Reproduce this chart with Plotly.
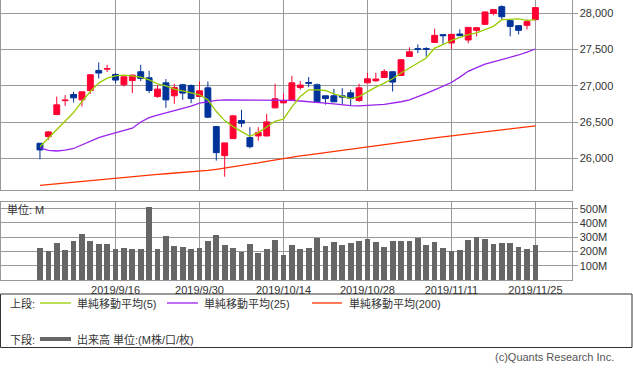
import plotly.graph_objects as go

W, H = 633, 371

dates = (["2019/9/%d" % d for d in [3, 4, 5, 6, 9, 10, 11, 12, 13, 16, 17, 18, 19, 20, 23, 24, 25, 26, 27, 30]]
         + ["2019/10/%d" % d for d in [1, 2, 3, 4, 7, 8, 9, 10, 11, 14, 15, 16, 17, 18, 21, 22, 23, 24, 25, 28, 29, 30, 31]]
         + ["2019/11/%d" % d for d in [1, 4, 5, 6, 7, 8, 11, 12, 13, 14, 15, 18, 19, 20, 21, 22, 25]])

opens = [26207, 26299, 26603, 26795, 26880, 26806, 26935, 27212, 27230, 27156,
         27014, 27073, 27194, 27111, 26852, 27041, 26862, 27014, 27004, 26852,
         26972, 26437, 26036, 26271, 26520, 26285, 26308, 26308, 26696, 26765,
         26802, 26976, 27045, 27014, 26862, 26862, 26862, 26903, 26797, 27041,
         27069, 27115, 27194, 27142, 27405, 27512, 27515, 27599, 27706, 27591,
         27715, 27632, 27765, 27848, 27999, 28092, 27899, 27830, 27834, 27913]
highs = [26210, 26370, 26852, 26871, 26917, 26920, 27155, 27322, 27290, 27176,
         27128, 27150, 27290, 27207, 27010, 27093, 27028, 27028, 27018, 27059,
         27059, 26447, 26212, 26599, 26668, 26429, 26429, 26613, 27028, 26889,
         27138, 27065, 27120, 27032, 26865, 26958, 26968, 26945, 27028, 27180,
         27180, 27231, 27198, 27365, 27530, 27571, 27532, 27788, 27710, 27712,
         27779, 27810, 27805, 28022, 28055, 28111, 27905, 27835, 27915, 28085]
lows = [25986, 26253, 26595, 26723, 26769, 26714, 26889, 27101, 27190, 27037,
        26990, 26899, 27065, 26899, 26834, 26696, 26751, 26806, 26761, 26850,
        26553, 25967, 25746, 26271, 26429, 26138, 26243, 26300, 26690, 26760,
        26800, 26945, 26982, 26775, 26741, 26775, 26741, 26723, 26778, 27035,
        27055, 27110, 26921, 27140, 27400, 27452, 27405, 27595, 27580, 27508,
        27690, 27586, 27682, 27845, 27971, 27917, 27682, 27710, 27779, 27910]
closes = [26115, 26364, 26737, 26802, 26834, 26917, 27152, 27176, 27238, 27079,
          27124, 27148, 27101, 26935, 26954, 26806, 26976, 26899, 26824, 26931,
          26567, 26077, 26212, 26585, 26484, 26160, 26354, 26502, 26820, 26792,
          27041, 27010, 27035, 26779, 26824, 26779, 26844, 26824, 26972, 27097,
          27093, 27198, 27051, 27360, 27470, 27505, 27505, 27696, 27692, 27710,
          27692, 27806, 27802, 28019, 28051, 27953, 27820, 27765, 27885, 28079]

ma5 = [26160, 26277, 26391, 26520, 26631, 26783, 26921, 27037, 27106, 27138,
       27148, 27138, 27120, 27083, 27028, 27000, 26954, 26931, 26907, 26876,
       26806, 26645, 26520, 26437, 26368, 26304, 26354, 26429, 26510, 26540,
       26710, 26852, 26945, 26945, 26935, 26889, 26852, 26824, 26852, 26921,
       26982, 27037, 27097, 27176, 27245, 27304, 27383, 27521, 27567, 27626,
       27664, 27705, 27729, 27775, 27820, 27913, 27923, 27923, 27903, 27910]
ma25 = [26145, 26110, 26100, 26112, 26135, 26184, 26235, 26285, 26318, 26350,
        26380, 26415, 26500, 26560, 26595, 26625, 26655, 26690, 26720, 26760,
        26783, 26800, 26806, 26806, 26806, 26806, 26806, 26806, 26806, 26806,
        26800, 26790, 26783, 26770, 26761, 26750, 26737, 26725, 26723, 26725,
        26737, 26745, 26761, 26780, 26806, 26845, 26895, 26945, 26995, 27045,
        27120, 27200, 27250, 27300, 27330, 27360, 27390, 27425, 27465, 27508]
ma200 = [25627, 25638, 25650, 25661, 25673, 25684, 25696, 25707, 25719, 25730,
         25742, 25753, 25762, 25770, 25778, 25786, 25794, 25801, 25808, 25816,
         25832, 25848, 25864, 25880, 25895, 25916, 25937, 25958, 25979, 26000,
         26016, 26032, 26048, 26064, 26080, 26097, 26114, 26130, 26145, 26160,
         26175, 26190, 26205, 26220, 26235, 26250, 26265, 26280, 26295, 26310,
         26324, 26338, 26352, 26366, 26380, 26393, 26407, 26420, 26434, 26447]

volume_m = [224, 203, 259, 210, 273, 322, 273, 252, 252, 217,
            224, 217, 217, 512, 217, 308, 238, 231, 217, 224,
            273, 315, 245, 224, 196, 252, 192, 217, 280, 175,
            245, 217, 224, 294, 238, 266, 245, 259, 273, 287,
            266, 231, 273, 273, 273, 294, 245, 266, 224, 203,
            210, 280, 301, 287, 252, 259, 259, 231, 217, 245]

price_ticks = [26000, 26500, 27000, 27500, 28000]
volume_ticks = [100, 200, 300, 400, 500]
volume_labels = ["100M", "200M", "300M", "400M", "500M"]
date_ticks = [dates[i] for i in range(9, 60, 10)]

C_UP, C_DN = "#ff0033", "#003399"
C_MA5, C_MA25, C_MA200 = "#99cc00", "#9922ee", "#ff3300"
C_VOL = "#666666"
GRID = "#999999"
FONT = "Liberation Sans, Arial, Noto Sans CJK JP, sans-serif"


def px(x):
    return x / W


def py(y):
    return 1 - y / H


fig = go.Figure()
fig.add_trace(go.Candlestick(
    x=dates, open=opens, high=highs, low=lows, close=closes,
    increasing=dict(line=dict(color=C_UP, width=1), fillcolor=C_UP),
    decreasing=dict(line=dict(color=C_DN, width=1), fillcolor=C_DN),
    whiskerwidth=0, xaxis="x", yaxis="y", showlegend=False, hoverinfo="skip"))
for vals, col in [(ma200, C_MA200), (ma25, C_MA25), (ma5, C_MA5)]:
    fig.add_trace(go.Scatter(x=dates, y=vals, mode="lines", line=dict(color=col, width=1.3),
                             xaxis="x", yaxis="y", showlegend=False, hoverinfo="skip"))
fig.add_trace(go.Bar(x=dates, y=volume_m, marker=dict(color=C_VOL, line=dict(width=0)),
                     width=0.68, xaxis="x2", yaxis="y2", showlegend=False, hoverinfo="skip"))

xdom = [px(1), px(571.5)]
xr = [-4.64, 63.3]
common_x = dict(type="category", range=xr, domain=xdom, tickvals=date_ticks,
                showgrid=True, gridcolor=GRID, gridwidth=1, showline=True, mirror=True,
                linecolor=GRID, linewidth=1, zeroline=False, ticks="", fixedrange=True)
common_y = dict(side="right", showgrid=True, gridcolor=GRID, gridwidth=1, showline=True,
                mirror=True, linecolor=GRID, linewidth=1, zeroline=False, ticks="outside",
                ticklen=5, tickcolor=GRID, fixedrange=True,
                tickfont=dict(size=11, color="#333333", family=FONT))

fig.update_layout(
    width=W, height=H, margin=dict(l=0, r=0, t=0, b=0),
    paper_bgcolor="white", plot_bgcolor="white",
    font=dict(family=FONT, size=11, color="#333333"),
    boxgap=0.3, boxgroupgap=0, bargap=0,
    xaxis=dict(**common_x, anchor="y", showticklabels=False, rangeslider=dict(visible=False)),
    xaxis2=dict(**common_x, anchor="y2", showticklabels=True,
                tickfont=dict(size=11, color="#333333", family=FONT)),
    yaxis=dict(**common_y, domain=[py(190), py(0)], range=[25562, 28184], anchor="x",
               tickvals=price_ticks, tickformat=",d"),
    yaxis2=dict(**common_y, domain=[py(280), py(202.3)], range=[0, 545], anchor="x2",
                tickvals=volume_ticks, ticktext=volume_labels),
)

shapes = [
    dict(type="rect", xref="paper", yref="paper", x0=px(0.5), x1=px(632), y0=py(294), y1=py(347.5),
         line=dict(color="#333333", width=1)),
    dict(type="line", xref="paper", yref="paper", x0=px(40), x1=px(71), y0=py(303), y1=py(303),
         line=dict(color=C_MA5, width=1.3)),
    dict(type="line", xref="paper", yref="paper", x0=px(167), x1=px(198), y0=py(303), y1=py(303),
         line=dict(color=C_MA25, width=1.3)),
    dict(type="line", xref="paper", yref="paper", x0=px(312), x1=px(342), y0=py(303), y1=py(303),
         line=dict(color=C_MA200, width=1.3)),
    dict(type="line", xref="paper", yref="paper", x0=px(40), x1=px(71), y0=py(339), y1=py(339),
         line=dict(color=C_VOL, width=4)),
]


def ann(x, y, text, anchor="left", size=11, color="#333333"):
    return dict(xref="paper", yref="paper", x=px(x), y=py(y), text=text, showarrow=False,
                xanchor=anchor, yanchor="middle", font=dict(size=size, color=color, family=FONT))


annotations = [
    ann(5, 209, "単位: M"),
    ann(8, 303, "上段:"),
    ann(75, 303, "単純移動平均(5)"),
    ann(202, 303, "単純移動平均(25)"),
    ann(347, 303, "単純移動平均(200)"),
    ann(8, 339, "下段:"),
    ann(75, 339, "出来高 単位:(M株/口/枚)"),
    ann(616, 357, "(c)Quants Research Inc.", anchor="right", color="#555555"),
]
fig.update_layout(shapes=shapes, annotations=annotations)

fig.write_html("out.html", config={"displayModeBar": False, "staticPlot": True},
               post_script="document.body.style.margin='0';document.body.style.overflow='hidden';")
